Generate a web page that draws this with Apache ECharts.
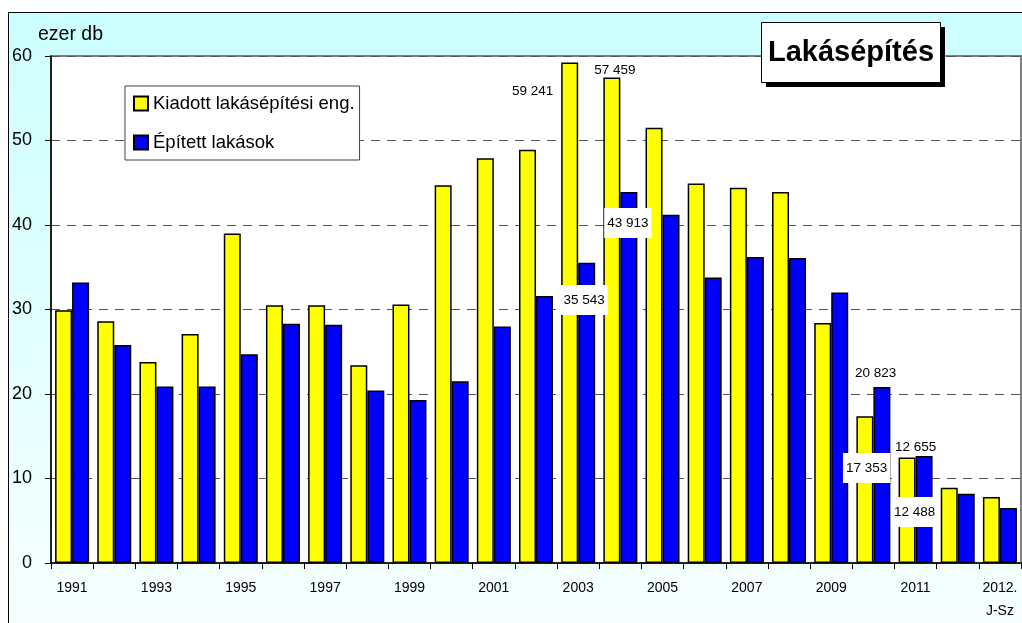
<!DOCTYPE html>
<html>
<head>
<meta charset="utf-8">
<script src="https://cdn.jsdelivr.net/npm/echarts@6/dist/echarts.min.js"></script>
<style>
html,body{margin:0;padding:0;background:#fff;}
#chart{width:1022px;height:623px;}
</style>
</head>
<body>
<div id="chart"></div>
<script>
var categories = ['1991','1992','1993','1994','1995','1996','1997','1998','1999','2000','2001','2002','2003','2004','2005','2006','2007','2008','2009','2010','2011','2011.\nJ-Sz','2012.\nJ-Sz'];
var permits = [29.9, 28.6, 23.8, 27.1, 39.0, 30.5, 30.5, 23.4, 30.6, 44.7, 47.9, 48.9, 59.241, 57.459, 51.5, 44.9, 44.4, 43.9, 28.4, 17.353, 12.488, 8.9, 7.8];
var built = [33.2, 25.8, 20.9, 20.9, 24.7, 28.3, 28.2, 20.4, 19.3, 21.5, 28.0, 31.6, 35.543, 43.913, 41.2, 33.8, 36.2, 36.1, 32.0, 20.823, 12.655, 8.2, 6.5];
var seriesNames = ['Kiadott lakásépítési eng.', 'Épített lakások'];
var yTicks = [0, 10, 20, 30, 40, 50, 60];
var titleText = 'Lakásépítés';
var unitText = 'ezer db';

// labelled values: index -> [offsetX, offsetY, boxed]
var permitLabels = {12: [-37, -221, false], 13: [3, -250, false], 19: [1.7, -21.7, true], 20: [7.5, 1.8, true]};
var builtLabels = {12: [-2.6, -112.8, true], 13: [-1, -154.5, true], 19: [-6.3, -102, false], 20: [-8.5, -62.6, false]};

function fmt(v) {
  var n = Math.round(v * 1000);
  var s = String(n);
  return s.slice(0, s.length - 3) + ' ' + s.slice(s.length - 3);
}
var FONT = "'Liberation Sans', Arial, sans-serif";
function buildData(values, labels) {
  return values.map(function (v, i) {
    var l = labels[i];
    if (!l) return v;
    return {
      value: v,
      label: {
        show: true, position: 'inside', offset: [l[0], l[1]],
        formatter: fmt(v), color: '#000', fontSize: 13.5, fontFamily: FONT,
        backgroundColor: l[2] ? '#fff' : 'transparent',
        padding: l[2] ? [8, 3, 8, 3] : 0
      }
    };
  });
}

var chart = echarts.init(document.getElementById('chart'), null, {renderer: 'canvas'});
var option = {
  animation: false,
  textStyle: {fontFamily: FONT},
  graphic: [
    {type: 'rect', z: -10, shape: {x: 8.5, y: 12.5, width: 1040, height: 700},
     style: {fill: new echarts.graphic.LinearGradient(0, 0, 0, 1, [{offset: 0, color: '#ccffff'}, {offset: 0.9, color: '#f8ffff'}, {offset: 1, color: '#fbffff'}]), stroke: '#000', lineWidth: 1}},
    {type: 'rect', z: 50, shape: {x: 766, y: 27, width: 179, height: 60}, style: {fill: '#000'}},
    {type: 'rect', z: 51, shape: {x: 761.5, y: 22.5, width: 179, height: 60}, style: {fill: '#fff', stroke: '#000', lineWidth: 1}},
    {type: 'text', z: 52, x: 851, y: 53, style: {text: titleText, font: 'bold 29px ' + FONT, fill: '#000', textAlign: 'center', textVerticalAlign: 'middle'}},
    {type: 'text', z: 52, x: 38, y: 35, style: {text: unitText, font: '19.5px ' + FONT, fill: '#000', textAlign: 'left', textVerticalAlign: 'middle'}}
  ],
  grid: {left: 51, top: 56, right: 1, bottom: 60, show: true, backgroundColor: '#fff', borderColor: '#808080', borderWidth: 2},
  legend: {
    orient: 'vertical', left: 125, top: 86,
    backgroundColor: '#fff', borderColor: '#404040', borderWidth: 1,
    padding: [8, 5, 8, 8], itemGap: 20, itemWidth: 14, itemHeight: 14,
    icon: 'rect',
    textStyle: {fontSize: 18.5, color: '#000', fontFamily: FONT},
    data: seriesNames
  },
  xAxis: {
    type: 'category', data: categories,
    axisLine: {lineStyle: {color: '#000', width: 1.5}},
    axisTick: {show: true, interval: 0, length: 6, lineStyle: {color: '#000'}},
    axisLabel: {interval: 1, fontSize: 14, color: '#000', margin: 14, lineHeight: 23, fontFamily: FONT},
    splitLine: {show: false}
  },
  yAxis: {
    type: 'value', min: yTicks[0], max: yTicks[yTicks.length - 1], interval: 10,
    axisLine: {show: true, lineStyle: {color: '#000', width: 1.5}},
    axisTick: {show: true, length: 6, lineStyle: {color: '#000'}},
    axisLabel: {fontSize: 18, color: '#000', margin: 19, fontFamily: FONT},
    splitLine: {show: true, lineStyle: {color: '#555', type: [9, 7], width: 1}}
  },
  series: [
    {name: seriesNames[0], type: 'bar', barWidth: 17, barGap: '0%',
     itemStyle: {color: '#ffff00', borderColor: '#000', borderWidth: 1.5},
     data: buildData(permits, permitLabels), z: 3},
    {name: seriesNames[1], type: 'bar', barWidth: 17, barGap: '0%',
     itemStyle: {color: '#0000ff', borderColor: '#000', borderWidth: 1.5},
     data: buildData(built, builtLabels), z: 3}
  ]
};
chart.setOption(option);
</script>
</body>
</html>
